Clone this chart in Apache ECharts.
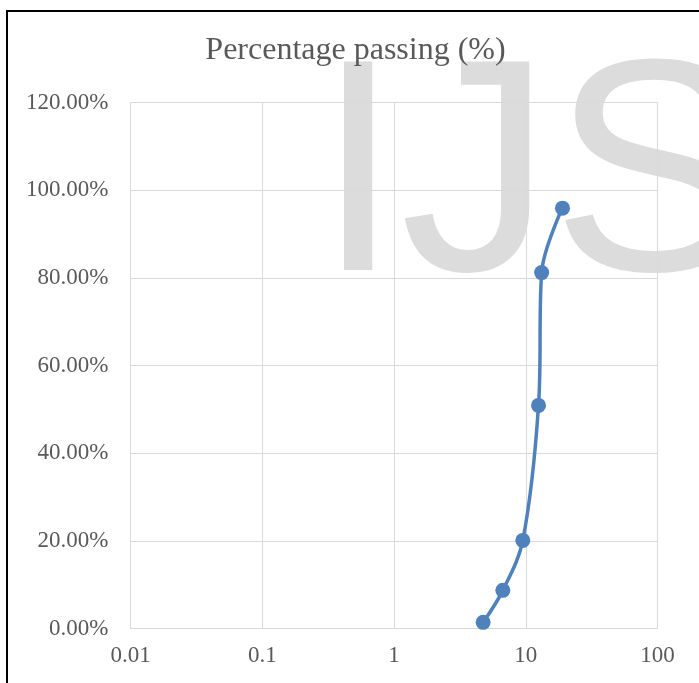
<!DOCTYPE html>
<html>
<head>
<meta charset="utf-8">
<script src="https://cdn.jsdelivr.net/npm/echarts@6/dist/echarts.min.js"></script>
<style>html,body{margin:0;padding:0;background:#fff}#c{width:699px;height:683px}</style>
</head>
<body>
<div id="c"></div>
<script>
var titleText = 'Percentage passing (%)';
var watermarkText = 'IJS';
var sieveSizes = [4.75, 6.7, 9.5, 12.5, 13.2, 19.0];
var percentPassing = [0.014, 0.087, 0.201, 0.509, 0.812, 0.959];
var xTicks = [0.01, 0.1, 1, 10, 100];
var yMin = 0, yMax = 1.2, yStep = 0.2;

var data = sieveSizes.map(function (s, i) { return [s, percentPassing[i]]; });
var chart = echarts.init(document.getElementById('c'), null, {renderer: 'canvas'});
var labelFont = {fontFamily: '"Liberation Serif", "Times New Roman", serif', fontSize: 23, color: '#595959'};
chart.setOption({
  backgroundColor: '#ffffff',
  animation: false,
  title: {
    text: titleText,
    left: 350.5, top: 30, textAlign: 'center',
    textStyle: {fontFamily: '"Liberation Serif", "Times New Roman", serif', fontSize: 32, fontWeight: 'normal', color: '#595959'}
  },
  graphic: [
    {type: 'text', z: -10, left: 316, top: 35, silent: true,
     style: {text: watermarkText, font: '303px "Liberation Sans", Arial, sans-serif', fill: '#dcdcdc'}},
    {type: 'rect', z: 100, silent: true, shape: {x: 7, y: 11, width: 800, height: 800},
     style: {fill: 'none', stroke: '#000000', lineWidth: 2}}
  ],
  grid: {left: 130.5, right: 41.5, top: 102.5, bottom: 54.5, containLabel: false},
  xAxis: {
    type: 'log', logBase: 10, min: 0.01, max: 100,
    axisLine: {show: true, lineStyle: {color: '#d9d9d9', width: 1}},
    axisTick: {show: false},
    splitLine: {show: true, lineStyle: {color: '#d9d9d9', width: 1}},
    axisLabel: Object.assign({margin: 16, formatter: function (v) { return String(v); }}, labelFont)
  },
  yAxis: {
    type: 'value', min: yMin, max: yMax, interval: yStep,
    axisLine: {show: false},
    axisTick: {show: false},
    splitLine: {show: true, lineStyle: {color: '#d9d9d9', width: 1}},
    axisLabel: Object.assign({margin: 22, padding: [3, 0, 0, 0], formatter: function (v) { return (v * 100).toFixed(2) + '%'; }}, labelFont)
  },
  series: [{
    type: 'line',
    data: data,
    smooth: 0.35,
    symbol: 'circle',
    symbolSize: 15,
    lineStyle: {color: '#4f81bd', width: 3.5},
    itemStyle: {color: '#4f81bd'},
    z: 5
  }]
});
</script>
</body>
</html>
